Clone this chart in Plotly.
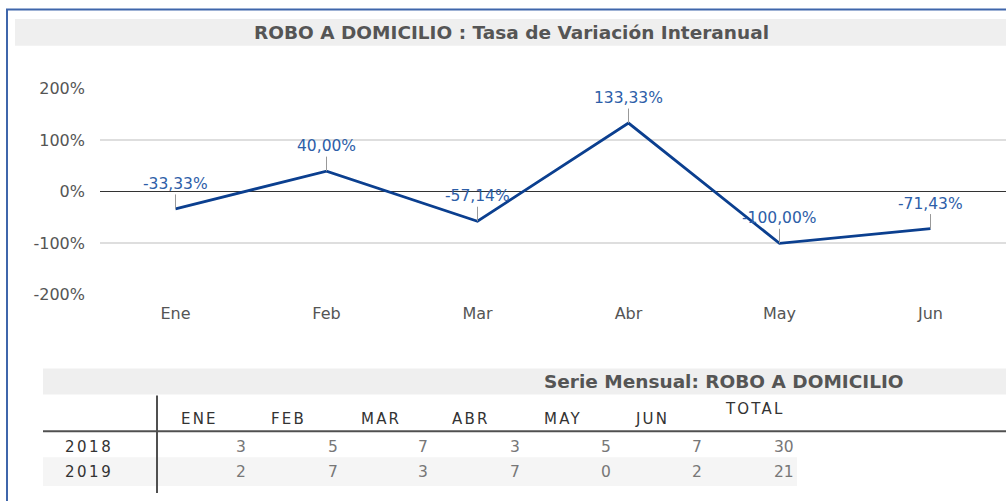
import plotly.graph_objects as go

# ---- data ----
months = ["Ene", "Feb", "Mar", "Abr", "May", "Jun"]
variation = [-33.33, 40.00, -57.14, 133.33, -100.00, -71.43]
y_ticks = [-200, -100, 0, 100, 200]
y_tick_text = ["-200%", "-100%", "0%", "100%", "200%"]

table_headers = ["ENE", "FEB", "MAR", "ABR", "MAY", "JUN", "TOTAL"]
years = ["2018", "2019"]
values_2018 = [3, 5, 7, 3, 5, 7, 30]
values_2019 = [2, 7, 3, 7, 0, 2, 21]

title_text = "ROBO A DOMICILIO : Tasa de Variación Interanual"
table_title = "Serie Mensual: ROBO A DOMICILIO"

W, H = 1006, 501
FONT = "DejaVu Sans"
# vertical calibration of the captured picture (observed: y_pic = 8 + 0.966 * y_page)
T, S = 8.0, 0.966


def px(x):
    return x / W


def py(y):
    yp = max((y - T) / S, 0.5)
    return 1 - yp / H


def fmt(v):
    return f"{v:.2f}".replace(".", ",") + "%"


def spaced(t, s):
    return f'<span style="letter-spacing:{s}px">{t}</span>'


fig = go.Figure()
fig.add_trace(go.Scatter(
    x=list(range(len(months))), y=variation, mode="lines",
    line=dict(color="#0b3f8f", width=2.8), hoverinfo="skip", showlegend=False,
))

shapes = []
annotations = []

# outer blue frame
shapes.append(dict(type="rect", xref="paper", yref="paper",
                   x0=px(7), x1=px(1030), y0=-0.1, y1=py(5.5),
                   line=dict(color="#3f66ab", width=2), fillcolor="rgba(0,0,0,0)", layer="above"))
# title band
shapes.append(dict(type="rect", xref="paper", yref="paper",
                   x0=px(15), x1=px(1030), y0=py(45), y1=py(18),
                   line=dict(width=0), fillcolor="#efefef", layer="below"))
annotations.append(dict(xref="paper", yref="paper", x=px(512), y=py(32),
                        text="<b>" + title_text + "</b>", showarrow=False,
                        xanchor="center", yanchor="middle",
                        font=dict(family=FONT, size=18.5, color="#555555")))

# data labels with leader lines
for i, v in enumerate(variation):
    annotations.append(dict(xref="x", yref="y", x=i, y=v, text=fmt(v),
                            showarrow=True, arrowhead=0, arrowwidth=1, arrowcolor="#999999",
                            ax=0, ay=-25, standoff=0,
                            font=dict(family=FONT, size=15.5, color="#2d5ea8")))

# table band
shapes.append(dict(type="rect", xref="paper", yref="paper",
                   x0=px(43), x1=px(1030), y0=py(395), y1=py(369),
                   line=dict(width=0), fillcolor="#efefef", layer="below"))
annotations.append(dict(xref="paper", yref="paper", x=px(542), y=py(382),
                        text="<b>" + table_title + "</b>", showarrow=False,
                        xanchor="left", yanchor="middle",
                        font=dict(family=FONT, size=18.5, color="#555555")))
# 2019 row background
shapes.append(dict(type="rect", xref="paper", yref="paper",
                   x0=px(43), x1=px(797), y0=py(487), y1=py(458),
                   line=dict(width=0), fillcolor="#f5f5f5", layer="below"))
# header separator lines
shapes.append(dict(type="line", xref="paper", yref="paper",
                   x0=px(43), x1=px(1030), y0=py(432), y1=py(432),
                   line=dict(color="#505050", width=2)))
shapes.append(dict(type="line", xref="paper", yref="paper",
                   x0=px(157), x1=px(157), y0=py(396), y1=py(494),
                   line=dict(color="#505050", width=2)))

header_x = [199, 288, 381, 471, 563, 652, 755]
for h, hx in zip(table_headers, header_x):
    hy = 409.5 if h == "TOTAL" else 419.5
    annotations.append(dict(xref="paper", yref="paper", x=px(hx), y=py(hy), text=spaced(h, 2.2),
                            showarrow=False, xanchor="center", yanchor="middle",
                            font=dict(family=FONT, size=15, color="#333333")))

value_right = [248, 340, 430, 522, 613, 704, 796]
row_y = [447.5, 472.5]
for yr, vals, ry in zip(years, [values_2018, values_2019], row_y):
    annotations.append(dict(xref="paper", yref="paper", x=px(63), y=py(ry), text=spaced(yr, 2.5),
                            showarrow=False, xanchor="left", yanchor="middle",
                            font=dict(family=FONT, size=15, color="#333333")))
    for val, vx in zip(vals, value_right):
        annotations.append(dict(xref="paper", yref="paper", x=px(vx), y=py(ry), text=str(val),
                                showarrow=False, xanchor="right", yanchor="middle",
                                font=dict(family=FONT, size=15.5, color="#777777")))

fig.update_layout(
    width=W, height=H,
    margin=dict(l=0, r=0, t=0, b=0),
    paper_bgcolor="white", plot_bgcolor="white",
    showlegend=False,
    shapes=shapes, annotations=annotations,
    xaxis=dict(domain=[px(100), 1.0], range=[-0.5, 5.5],
               tickvals=list(range(len(months))), ticktext=months,
               showgrid=False, zeroline=False, showline=False, ticks="",
               tickfont=dict(family=FONT, size=16, color="#555555"),
               ticklabelstandoff=7),
    yaxis=dict(domain=[py(295), py(88)], range=[-200, 200],
               tickvals=y_ticks, ticktext=y_tick_text,
               showgrid=True, gridcolor="#dedede", gridwidth=2,
               zeroline=True, zerolinecolor="#333333", zerolinewidth=1,
               showline=False, ticks="",
               tickfont=dict(family=FONT, size=16, color="#555555"),
               ticklabelstandoff=14),
)

fig.write_html(
    "out.html",
    config={"displayModeBar": False},
    post_script="document.body.style.margin='0';document.body.style.overflow='hidden';",
)
